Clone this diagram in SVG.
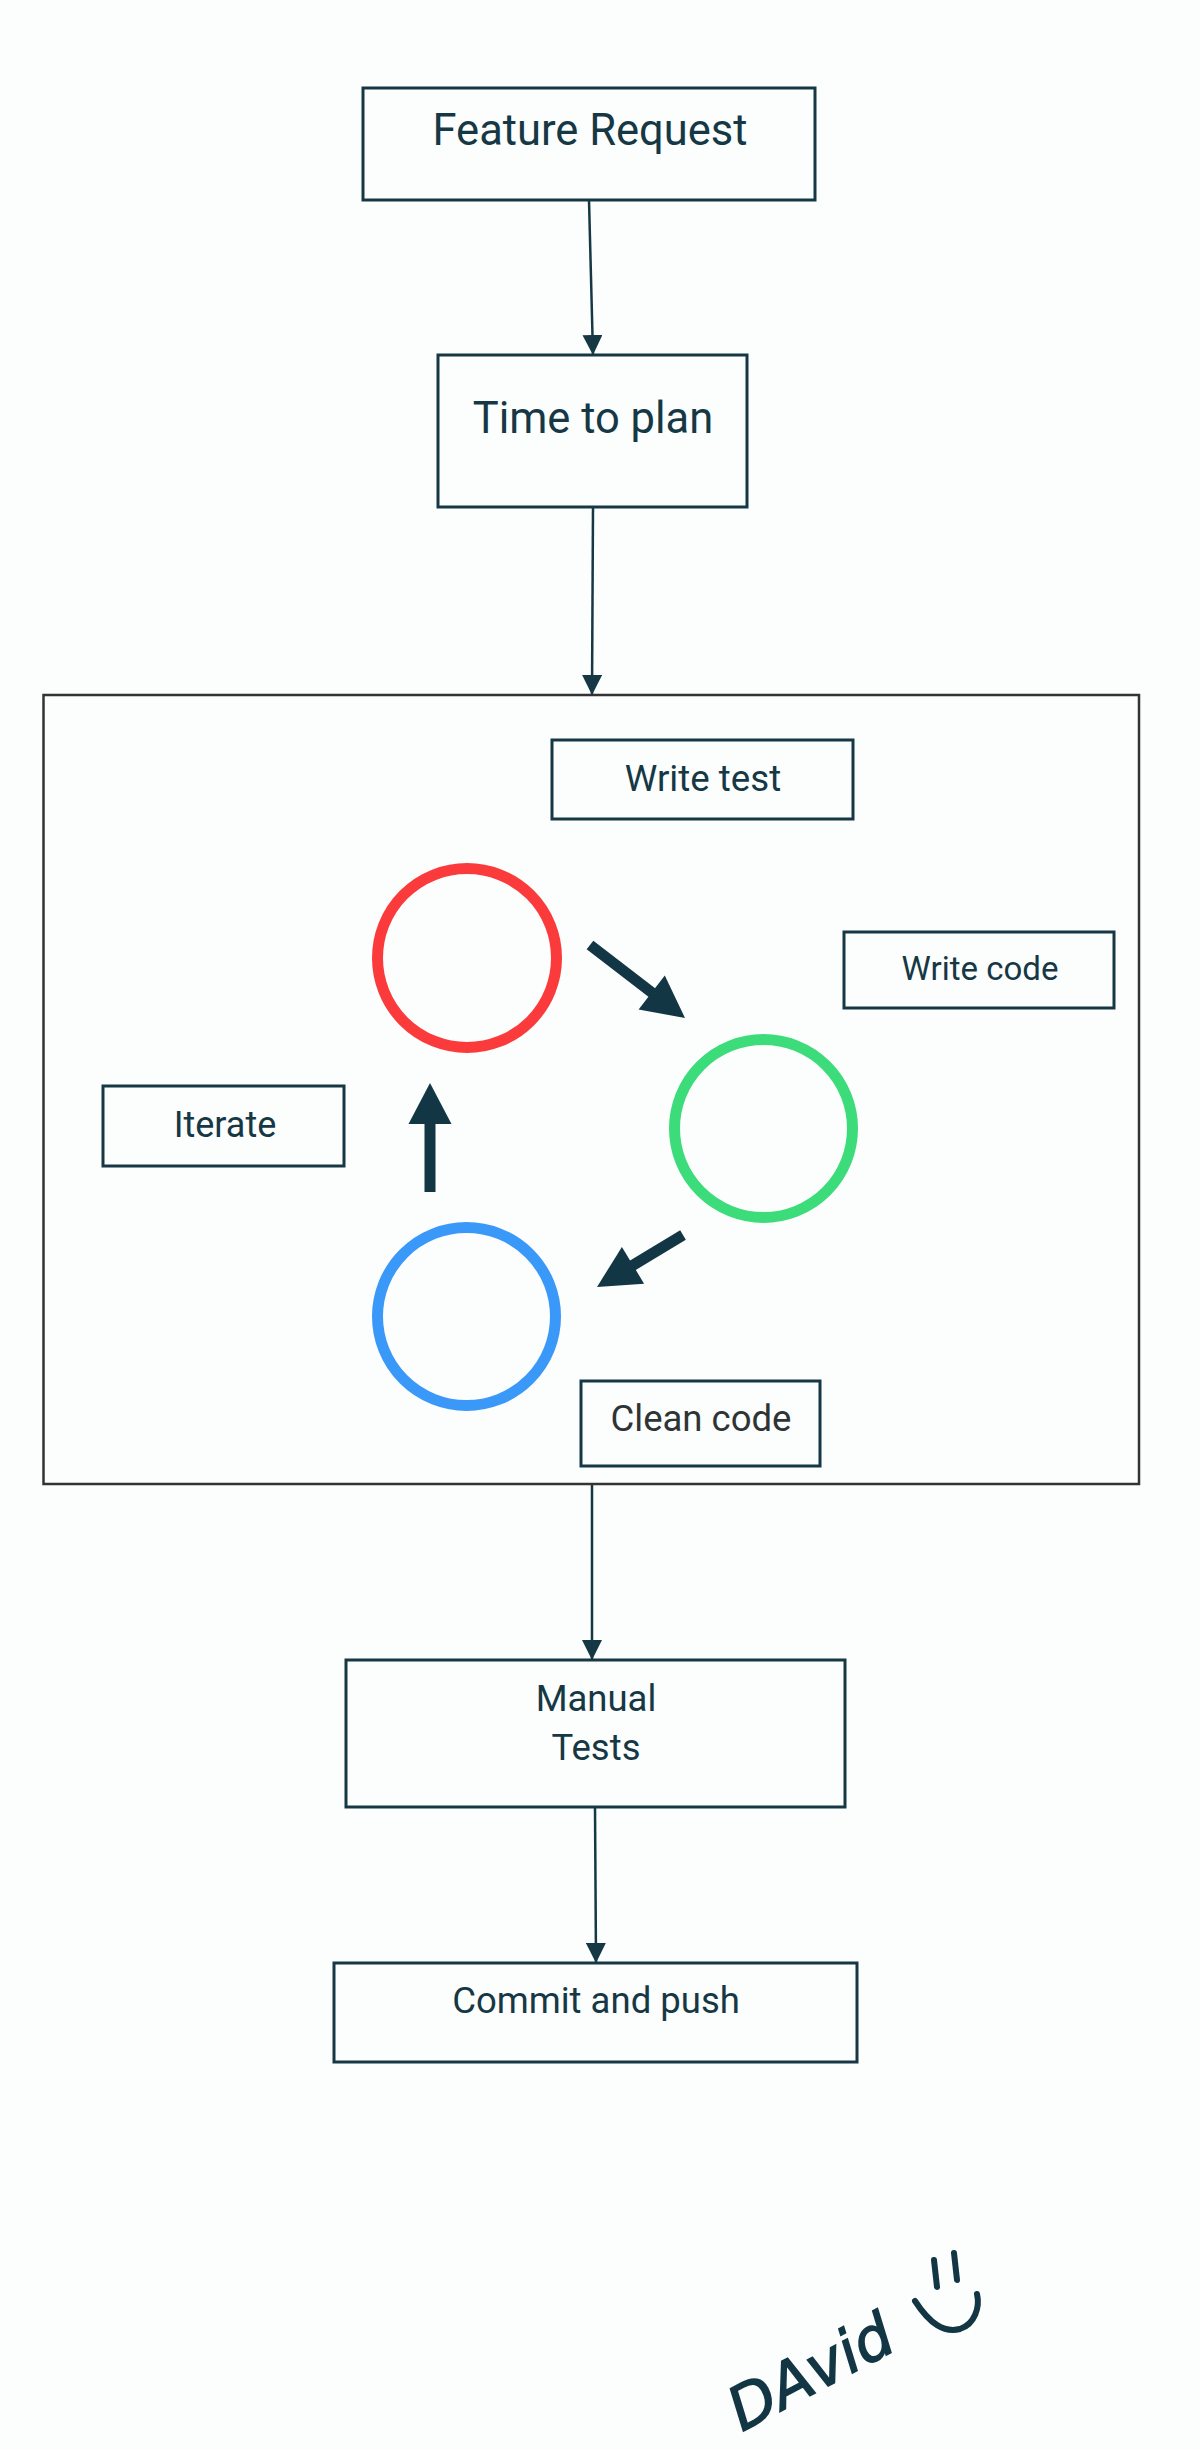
<svg xmlns="http://www.w3.org/2000/svg" width="1200" height="2449" viewBox="0 0 1200 2449">
  <defs>
    <style>
      .box { fill: none; stroke: #163845; stroke-width: 3; }
      .lbl { font-family: Roboto, "Liberation Sans", sans-serif; fill: #163845; text-anchor: middle; }
      .conn { stroke: #163845; stroke-width: 2.5; fill: none; marker-end: url(#ah); }
      .thick { stroke: #133644; stroke-width: 11; fill: none; }
      .head { fill: #133644; }
      .ring { fill: none; stroke-width: 11; }
      .sig { fill: none; stroke: #133644; stroke-width: 6; stroke-linecap: round; stroke-linejoin: round; }
    </style>
    <marker id="ah" markerUnits="userSpaceOnUse" markerWidth="20" markerHeight="20" refX="20" refY="10" orient="auto">
      <path d="M0,0 L20,10 L0,20 z" fill="#163845"/>
    </marker>
  </defs>
  <rect x="0" y="0" width="1200" height="2449" fill="#FCFDFD"/>

  <g id="connectors">
    <line class="conn" x1="589" y1="200" x2="593" y2="355"/>
    <line class="conn" x1="593" y1="507" x2="592" y2="695"/>
    <line class="conn" x1="592" y1="1484" x2="592" y2="1660"/>
    <line class="conn" x1="595" y1="1807" x2="596" y2="1963"/>
  </g>

  <g id="feature-request">
    <rect class="box" x="363" y="88" width="452" height="112"/>
    <text class="lbl" x="590" y="145" font-size="43.5">Feature Request</text>
  </g>
  <g id="time-to-plan">
    <rect class="box" x="438" y="355" width="309" height="152"/>
    <text class="lbl" x="593" y="433" font-size="43.5">Time to plan</text>
  </g>

  <g id="tdd-cycle">
    <rect x="43.5" y="695" width="1095.5" height="789" fill="none" stroke="#333333" stroke-width="2.5"/>
  </g>

  <g id="write-test">
    <rect class="box" x="552" y="740" width="301" height="79"/>
    <text class="lbl" x="703" y="791" font-size="36.7">Write test</text>
  </g>
  <g id="write-code">
    <rect class="box" x="844" y="932" width="270" height="76"/>
    <text class="lbl" x="980" y="980" font-size="33">Write code</text>
  </g>
  <g id="iterate">
    <rect class="box" x="103" y="1086" width="241" height="80"/>
    <text class="lbl" x="225" y="1137" font-size="36">Iterate</text>
  </g>
  <g id="clean-code">
    <rect class="box" x="581" y="1381" width="239" height="85"/>
    <text class="lbl" x="701" y="1431" font-size="36.5" style="fill:#2E3436">Clean code</text>
  </g>

  <g id="red-circle"><circle class="ring" cx="467" cy="958" r="89.5" stroke="#FB3B3B"/></g>
  <g id="green-circle"><circle class="ring" cx="763.5" cy="1128.5" r="89" stroke="#3DDC7B"/></g>
  <g id="blue-circle"><circle class="ring" cx="466.5" cy="1316.5" r="89" stroke="#3A98F8"/></g>

  <g id="cycle-arrows">
    <line class="thick" x1="590" y1="945" x2="655" y2="995"/>
    <polygon class="head" points="685,1018 638.6,1009.4 664.8,975.4"/>
    <line class="thick" x1="683" y1="1235" x2="630" y2="1267"/>
    <polygon class="head" points="597,1287 621.9,1246.9 644.1,1283.7"/>
    <line class="thick" x1="430" y1="1192" x2="430" y2="1120"/>
    <polygon class="head" points="430,1083 408.5,1124 451.5,1124"/>
  </g>

  <g id="manual-tests">
    <rect class="box" x="346" y="1660" width="499" height="147"/>
    <text class="lbl" x="596" y="1711" font-size="36.5">Manual</text>
    <text class="lbl" x="596" y="1760" font-size="36.5">Tests</text>
  </g>
  <g id="commit-and-push">
    <rect class="box" x="334" y="1963" width="523" height="99"/>
    <text class="lbl" x="596" y="2013" font-size="36.5">Commit and push</text>
  </g>

  <g id="signature">
    <text x="742" y="2432" transform="rotate(-28 742 2432)" font-family="'DejaVu Sans', sans-serif" font-style="italic" font-size="60" fill="#133644" stroke="#133644" stroke-width="1.5">DAvid</text>
    <path class="sig" d="M934,2260 L937,2287"/>
    <path class="sig" d="M954,2253 L957,2280"/>
    <path class="sig" d="M915,2301 C930,2324 944,2333 960,2329 C975,2324 980,2307 977,2294"/>
  </g>
</svg>
